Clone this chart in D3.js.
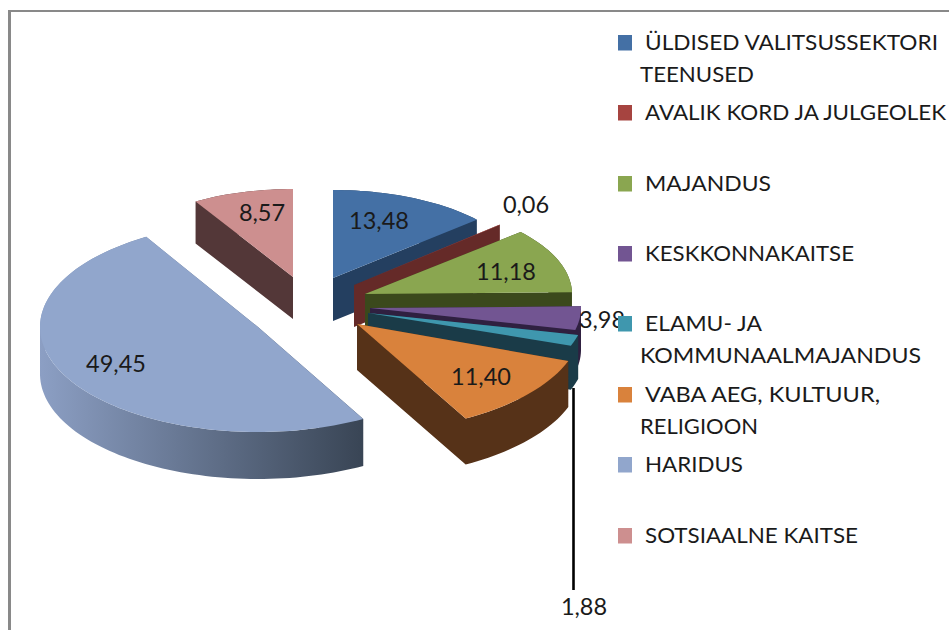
<!DOCTYPE html>
<html><head><meta charset="utf-8">
<script src="https://cdn.jsdelivr.net/npm/d3@7/dist/d3.min.js"></script>
<style>html,body{margin:0;padding:0;background:#fff;overflow:hidden}text{font-family:Lato,"Noto Sans",sans-serif;fill:#1a1a1a}</style>
</head><body><svg id="c" width="949" height="630"></svg>
<script>
const categories = ["ÜLDISED VALITSUSSEKTORI TEENUSED","AVALIK KORD JA JULGEOLEK","MAJANDUS","KESKKONNAKAITSE","ELAMU- JA KOMMUNAALMAJANDUS","VABA AEG, KULTUUR, RELIGIOON","HARIDUS","SOTSIAALNE KAITSE"];
const values = [13.48,0.06,11.18,3.98,1.88,11.40,49.45,8.57];
const legendLines = [["ÜLDISED VALITSUSSEKTORI","TEENUSED"],["AVALIK KORD JA JULGEOLEK"],["MAJANDUS"],["KESKKONNAKAITSE"],["ELAMU- JA","KOMMUNAALMAJANDUS"],["VABA AEG, KULTUUR,","RELIGIOON"],["HARIDUS"],["SOTSIAALNE KAITSE"]];
const topColors = ["#4470a5","#a64440","#8aa650","#725592","#3f97ae","#d9823c","#91a6cc","#cd8f8f"];
const wallColors = ["#243f60","#652a28","#3b491c","#2f2040","#1a3b48","#563218","url(#hw)","#533738"];
// layout of the exploded slices: apex x, apex y, horizontal radius, vertical radius, depth
const sliceLayout = [
 [333,278,192,88,43],[354,285,194,91,42],[365,294,207,94,42],[370,308,211,95,42],
 [368,313,216,95,44],[357,324,225,108,46],[258,327,218,105,47],[293,277,190,88,42]];
const labelPos = [[379,221],[526,205],[506,272],[602,320],[584,607],[481,377],[116,364],[262,213]];
const legendTop = [35,105,176,246,316,387,457,528];
const legendWidths = [[293,114],[301],[126],[209],[117,281],[235,118],[98],[213]];
const svg = d3.select("#c");
const defs = svg.append("defs");
const g = defs.append("linearGradient").attr("id","hw").attr("gradientUnits","userSpaceOnUse")
  .attr("x1",40).attr("x2",362).attr("y1",0).attr("y2",0);
g.append("stop").attr("offset",0).attr("stop-color","#8c9fc4");
g.append("stop").attr("offset",1).attr("stop-color","#394555");

svg.append("rect").attr("x",8).attr("y",10).attr("width",3).attr("height",620).attr("fill","#898989");
svg.append("rect").attr("x",8).attr("y",10).attr("width",941).attr("height",2).attr("fill","#898989");

const pie = d3.pie().sort(null).value(d=>d);
const arcs = pie(values);
const line = d3.line();
const order = [7,0,1,2,3,4,5,6];
order.forEach(i=>{
  const a = arcs[i], [cx,cy,rx,ry,dp] = sliceLayout[i];
  const n = Math.max(2,Math.ceil((a.endAngle-a.startAngle)/0.03));
  const ang = d3.scaleLinear().domain([0,n]).range([a.startAngle,a.endAngle]);
  const rim = d3.range(n+1).map(k=>[cx+rx*Math.sin(ang(k)),cy-ry*Math.cos(ang(k))]);
  const outline = [[cx,cy],...rim];
  // extruded side: quads of one winding in a single path, so the fill has no seams
  let d = "";
  outline.forEach((p,k)=>{
    const q = outline[(k+1)%outline.length];
    const quad = [p,q,[q[0],q[1]+dp],[p[0],p[1]+dp]];
    if (d3.polygonArea(quad) < 0) quad.reverse();
    d += line(quad)+"Z";
  });
  svg.append("path").attr("d",d).attr("fill",wallColors[i]);
  svg.append("path").attr("d",line(outline)+"Z").attr("fill",topColors[i]);
});

svg.append("line").attr("x1",573.5).attr("x2",573.5).attr("y1",388).attr("y2",590).attr("stroke","#000").attr("stroke-width",2.6);

const fmt = v=>v.toFixed(2).replace(".",",");
values.forEach((v,i)=>{
  svg.append("text").attr("x",labelPos[i][0]).attr("y",labelPos[i][1]+8)
    .attr("text-anchor","middle").attr("font-size",23.5).text(fmt(v));
});
legendLines.forEach((ls,i)=>{
  const t = legendTop[i];
  svg.append("rect").attr("x",618).attr("y",t).attr("width",14).attr("height",15.5).attr("fill",topColors[i]);
  ls.forEach((s,j)=>{
    svg.append("text").attr("x",j?640:645).attr("y",t+15+j*32)
      .attr("font-size",22).attr("textLength",legendWidths[i][j]).attr("lengthAdjust","spacingAndGlyphs").text(s);
  });
});
</script></body></html>
